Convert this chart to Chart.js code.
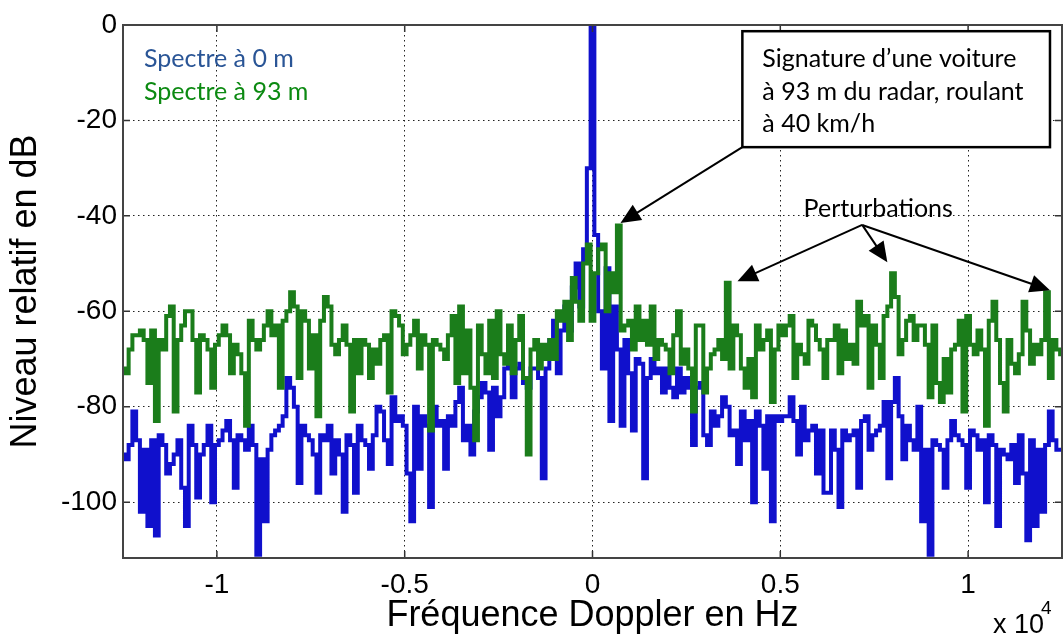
<!DOCTYPE html>
<html>
<head>
<meta charset="utf-8">
<script src="https://cdn.jsdelivr.net/npm/chart.js@4.4.1/dist/chart.umd.min.js"></script>
<style>
  html, body { margin: 0; padding: 0; background: #fff; }
  #wrap { width: 1064px; height: 639px; }
</style>
</head>
<body>
<div id="wrap"><canvas id="spectre" width="1064" height="639"></canvas></div>
<script>
// Spectres Doppler : niveau relatif (dB) par case de fréquence (pas de 100 Hz, de -12500 à +12500 Hz)
const FREQ_START = -12500;
const FREQ_STEP = 100;

// Spectre à 93 m (vert)
const spectre93 = [
  -72, -73, -68, -65, -65, -64, -66, -75, -64, -83, -66, -68, -61, -59, -81, -66, -63, -60, -60, -66,
  -77, -65, -66, -68, -76, -67, -65, -63, -65, -73, -67, -69, -73, -84, -62, -66, -68, -66, -63, -60,
  -65, -63, -76, -62, -60, -56, -59, -74, -60, -62, -72, -65, -82, -62, -57, -59, -67, -69, -66, -63,
  -67, -81, -66, -73, -66, -67, -74, -68, -71, -66, -65, -77, -60, -61, -63, -69, -67, -65, -62, -72,
  -65, -67, -85, -66, -67, -68, -70, -65, -61, -75, -59, -73, -64, -76, -87, -63, -69, -73, -62, -74,
  -60, -69, -71, -63, -73, -66, -61, -74, -90, -68, -66, -72, -67, -70, -66, -70, -60, -62, -58, -66,
  -53, -58, -62, -50, -46, -62, -52, -47, -46, -60, -52, -56, -42, -64, -63, -62, -68, -59, -66, -62,
  -67, -59, -70, -66, -67, -68, -73, -65, -60, -71, -68, -72, -81, -63, -63, -77, -72, -69, -68, -66,
  -70, -54, -72, -63, -65, -72, -76, -70, -78, -63, -68, -66, -64, -79, -68, -63, -65, -63, -61, -74,
  -67, -69, -71, -62, -63, -66, -68, -74, -66, -66, -63, -73, -64, -70, -67, -71, -58, -63, -61, -76,
  -63, -67, -74, -61, -59, -52, -57, -69, -66, -62, -61, -66, -63, -63, -67, -78, -63, -75, -79, -70,
  -77, -68, -67, -62, -81, -61, -67, -69, -64, -68, -84, -62, -58, -66, -75, -81, -66, -71, -73, -69,
  -58, -64, -71, -67, -69, -66, -56, -74, -66, -68, -69
];

// Spectre à 0 m (bleu)
const spectre0 = [
  -90, -91, -88, -81, -87, -102, -89, -105, -87, -107, -86, -88, -94, -92, -90, -87, -97, -105, -84, -88,
  -99, -90, -88, -84, -100, -88, -87, -85, -83, -87, -97, -86, -87, -89, -84, -88, -111, -91, -104, -89,
  -86, -85, -84, -82, -74, -76, -80, -96, -84, -86, -87, -90, -98, -86, -87, -84, -94, -87, -90, -102,
  -86, -88, -98, -84, -87, -88, -93, -86, -80, -81, -87, -92, -78, -83, -82, -84, -94, -104, -80, -93,
  -82, -84, -101, -80, -84, -83, -93, -82, -84, -79, -76, -87, -84, -90, -81, -78, -75, -77, -89, -76,
  -82, -78, -72, -70, -78, -72, -71, -75, -76, -72, -72, -74, -95, -72, -66, -62, -73, -64, -59, -64,
  -55, -50, -59, -47, -30, 0, -44, -60, -72, -51, -83, -59, -68, -84, -66, -73, -85, -70, -71, -95,
  -74, -70, -73, -72, -77, -72, -76, -78, -72, -77, -74, -76, -88, -76, -75, -86, -88, -81, -84, -82,
  -78, -80, -86, -85, -92, -81, -87, -83, -100, -81, -84, -93, -82, -104, -82, -83, -82, -82, -78, -83,
  -90, -80, -87, -85, -84, -94, -85, -98, -98, -85, -89, -101, -85, -87, -86, -85, -97, -83, -82, -89,
  -86, -85, -84, -79, -95, -79, -74, -82, -91, -84, -87, -89, -80, -104, -89, -111, -87, -88, -89, -97,
  -87, -83, -86, -87, -88, -97, -85, -86, -89, -87, -100, -86, -88, -105, -89, -90, -91, -88, -96, -86,
  -94, -108, -87, -105, -89, -102, -88, -81, -87, -89, -89
];

// axes
const xMin = -12500, xMax = 12500;
const yMin = -111.7, yMax = 0;
const xTicks = [-10000, -5000, 0, 5000, 10000];   // affichés en x 10^4
const yTicks = [-100, -80, -60, -40, -20, 0];

const freqHz = spectre0.map((_, i) => FREQ_START + FREQ_STEP * i);

const AXIS_FONT = '"Liberation Sans", Arial, sans-serif';
const NOTE_FONT = 'Lato, "Open Sans", sans-serif';

function fixedTicks(values) {
  return function(scale) {
    scale.ticks = values.map(v => ({ value: v }));
  };
}

// boîte, graduations intérieures, textes et flèches
const overlay = {
  id: 'overlay',
  afterDraw(chart) {
    const ctx = chart.ctx;
    const a = chart.chartArea;
    const xs = chart.scales.x, ys = chart.scales.y;
    const px = v => xs.getPixelForValue(v);
    const py = v => ys.getPixelForValue(v);

    ctx.save();
    // graduations vers l'intérieur
    ctx.strokeStyle = '#333';
    ctx.lineWidth = 1.5;
    ctx.beginPath();
    xTicks.forEach(v => {
      const x = px(v);
      ctx.moveTo(x, a.bottom); ctx.lineTo(x, a.bottom - 7);
      ctx.moveTo(x, a.top); ctx.lineTo(x, a.top + 7);
    });
    yTicks.forEach(v => {
      const y = py(v);
      ctx.moveTo(a.left, y); ctx.lineTo(a.left + 7, y);
      ctx.moveTo(a.right, y); ctx.lineTo(a.right - 7, y);
    });
    ctx.stroke();

    // cadre
    ctx.strokeStyle = '#444';
    ctx.lineWidth = 2;
    ctx.strokeRect(a.left, a.top, a.right - a.left, a.bottom - a.top);

    // légende
    ctx.font = '25px ' + NOTE_FONT;
    ctx.textAlign = 'left';
    ctx.textBaseline = 'alphabetic';
    ctx.fillStyle = '#2a5596';
    ctx.fillText('Spectre à 0 m', a.left + 21, a.top + 42);
    ctx.fillStyle = '#0c8a12';
    ctx.fillText('Spectre à 93 m', a.left + 21, a.top + 75);

    // encadré "Signature"
    const bx1 = px(3990), bx2 = px(12180), by1 = py(-1.3), by2 = py(-25.6);
    ctx.fillStyle = '#fff';
    ctx.fillRect(bx1, by1, bx2 - bx1, by2 - by1);
    ctx.strokeStyle = '#000';
    ctx.lineWidth = 2.5;
    ctx.strokeRect(bx1, by1, bx2 - bx1, by2 - by1);
    ctx.fillStyle = '#000';
    ctx.fillText('Signature d\u2019une voiture', bx1 + 20, by1 + 36);
    ctx.fillText('à 93 m du radar, roulant', bx1 + 20, by1 + 69);
    ctx.fillText('à 40 km/h', bx1 + 20, by1 + 101);

    ctx.fillText('Perturbations', px(5620), py(-40.3));

    function arrow(x0, y0, x1, y1) {
      const ang = Math.atan2(y1 - y0, x1 - x0);
      const L = 20, W = 9;
      ctx.strokeStyle = '#000';
      ctx.lineWidth = 2;
      ctx.beginPath();
      ctx.moveTo(x0, y0);
      ctx.lineTo(x1 - Math.cos(ang) * L * 0.8, y1 - Math.sin(ang) * L * 0.8);
      ctx.stroke();
      ctx.fillStyle = '#000';
      ctx.beginPath();
      ctx.moveTo(x1, y1);
      ctx.lineTo(x1 - Math.cos(ang) * L + Math.sin(ang) * W, y1 - Math.sin(ang) * L - Math.cos(ang) * W);
      ctx.lineTo(x1 - Math.cos(ang) * L - Math.sin(ang) * W, y1 - Math.sin(ang) * L + Math.cos(ang) * W);
      ctx.closePath();
      ctx.fill();
    }
    arrow(bx1, by2, px(745), py(-41.5));
    const ox = px(7180), oy = py(-41.9);
    arrow(ox, oy, px(3860), py(-53.7));
    arrow(ox, oy, px(7850), py(-49.7));
    arrow(ox, oy, px(12180), py(-55.6));

    // facteur d'échelle x 10^4
    ctx.font = '27px ' + AXIS_FONT;
    ctx.fillStyle = '#000';
    ctx.fillText('x 10', 993, 633);
    ctx.font = '19px ' + AXIS_FONT;
    ctx.fillText('4', 1041, 614);
    ctx.restore();
  }
};

new Chart(document.getElementById('spectre').getContext('2d'), {
  type: 'line',
  data: {
    datasets: [
      {
        label: 'Spectre à 93 m',
        data: freqHz.map((f, i) => ({ x: f, y: spectre93[i] })),
        borderColor: '#1b7d1b',
        borderWidth: 4,
        pointRadius: 0,
        stepped: 'middle',
        fill: false
      },
      {
        label: 'Spectre à 0 m',
        data: freqHz.map((f, i) => ({ x: f, y: spectre0[i] })),
        borderColor: '#1010cc',
        borderWidth: 4,
        pointRadius: 0,
        stepped: 'middle',
        fill: false
      }
    ]
  },
  options: {
    responsive: false,
    animation: false,
    layout: { padding: { top: 25, right: 2, left: 0, bottom: 0 } },
    plugins: {
      legend: { display: false },
      tooltip: { enabled: false }
    },
    scales: {
      x: {
        type: 'linear',
        min: xMin,
        max: xMax,
        afterBuildTicks: fixedTicks(xTicks),
        afterFit: s => { s.height = 81; },
        ticks: {
          padding: 10,
          color: '#000',
          font: { family: AXIS_FONT, size: 28 },
          maxRotation: 0,
          autoSkip: false,
          callback: v => String(v / 10000)
        },
        grid: { color: '#222', lineWidth: 1, drawTicks: false },
        border: { display: false, dash: [1.5, 3.5] },
        title: {
          display: true,
          text: 'Fréquence Doppler en Hz',
          color: '#000',
          font: { family: AXIS_FONT, size: 36 },
          padding: { top: 0, bottom: 1 }
        }
      },
      y: {
        type: 'linear',
        min: yMin,
        max: yMax,
        afterBuildTicks: fixedTicks(yTicks),
        afterFit: s => { s.width = 123; },
        ticks: {
          padding: 6,
          color: '#000',
          autoSkip: false,
          font: { family: AXIS_FONT, size: 28 }
        },
        grid: { color: '#222', lineWidth: 1, drawTicks: false },
        border: { display: false, dash: [1.5, 3.5] },
        title: {
          display: true,
          text: 'Niveau relatif en dB',
          color: '#000',
          font: { family: AXIS_FONT, size: 36 },
          padding: { top: 4, bottom: 0 }
        }
      }
    }
  },
  plugins: [overlay]
});
</script>
</body>
</html>
